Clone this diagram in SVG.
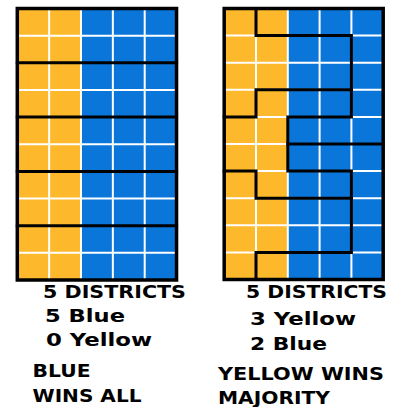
<svg xmlns="http://www.w3.org/2000/svg" width="397" height="407" viewBox="0 0 397 407">
<style>
.y{fill:#FDB92B}
.b{fill:#0B76DA}
.g{stroke:#fff;stroke-width:2;fill:none}
.d{stroke:#000;stroke-width:3;fill:none;stroke-linecap:square;stroke-linejoin:miter}
.o{stroke:#000;stroke-width:3.5;fill:none}
text{font-family:"DejaVu Sans",sans-serif;font-weight:bold;font-size:17px;fill:#000}
.big{font-size:18.5px}
</style>
<rect width="397" height="407" fill="#fff"/>
<g id="map-left">
<rect class="y" x="17.3" y="8.5" width="63.7" height="271.5"/>
<rect class="b" x="81" y="8.5" width="95.55" height="271.5"/>
<path class="g" d="M49.15 8.5V280M81 8.5V280M112.85 8.5V280M144.7 8.5V280M17.3 35.65H176.55M17.3 89.95H176.55M17.3 144.25H176.55M17.3 198.55H176.55M17.3 252.85H176.55"/>
<path class="d" d="M17.3 62.8H176.55M17.3 117.1H176.55M17.3 171.4H176.55M17.3 225.7H176.55"/>
<rect class="o" x="17.3" y="8.5" width="159.25" height="271.5"/>
</g>
<g id="map-right">
<rect class="y" x="224.2" y="8.5" width="63.6" height="271"/>
<rect class="b" x="287.8" y="8.5" width="95.4" height="271"/>
<path class="g" d="M256 8.5V279.5M287.8 8.5V279.5M319.6 8.5V279.5M351.4 8.5V279.5M224.2 35.6H383.2M224.2 62.7H383.2M224.2 89.8H383.2M224.2 116.9H383.2M224.2 144H383.2M224.2 171.1H383.2M224.2 198.2H383.2M224.2 225.3H383.2M224.2 252.4H383.2"/>
<g id="district-lines">
<path class="d" d="M256 8.5V35.6H351.4V116.9H287.8V171.1H351.4V252.4H256V279.5"/>
<path class="d" d="M224.2 116.9H256V89.8H351.4"/>
<path class="d" d="M224.2 171.1H256V198.2H351.4"/>
<path class="d" d="M287.8 144H383.2"/>
</g>
<rect class="o" x="224.2" y="8.5" width="159" height="271"/>
</g>
<g id="labels-left">
<text x="43" y="298" textLength="143" lengthAdjust="spacingAndGlyphs">5 DISTRICTS</text>
<text x="45" y="322" textLength="80" lengthAdjust="spacingAndGlyphs">5 Blue</text>
<text x="46" y="346" textLength="106" lengthAdjust="spacingAndGlyphs">0 Yellow</text>
<text class="big" x="32.5" y="377" textLength="58" lengthAdjust="spacingAndGlyphs">BLUE</text>
<text class="big" x="32.5" y="402" textLength="109" lengthAdjust="spacingAndGlyphs">WINS ALL</text>
</g>
<g id="labels-right">
<text x="246" y="298" textLength="141" lengthAdjust="spacingAndGlyphs">5 DISTRICTS</text>
<text x="250" y="325" textLength="106" lengthAdjust="spacingAndGlyphs">3 Yellow</text>
<text x="250" y="350" textLength="77" lengthAdjust="spacingAndGlyphs">2 Blue</text>
<text class="big" x="218" y="380" textLength="166" lengthAdjust="spacingAndGlyphs">YELLOW WINS</text>
<text class="big" x="218" y="404" textLength="112" lengthAdjust="spacingAndGlyphs">MAJORITY</text>
</g>
</svg>
